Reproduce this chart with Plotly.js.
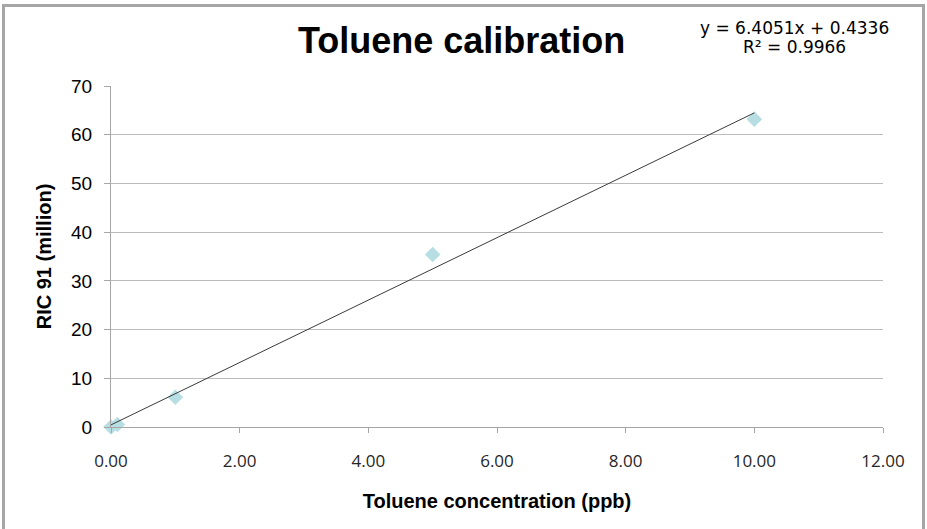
<!DOCTYPE html>
<html>
<head>
<meta charset="utf-8">
<script src="https://cdn.plot.ly/plotly-3.0.1.min.js"></script>
<style>
  html, body { margin: 0; padding: 0; background: #ffffff; overflow: hidden; }
  #chart { position: absolute; left: 0; top: 0; width: 927px; height: 529px; }
  #frame { position: absolute; left: 2px; top: 4px; width: 917px; height: 600px;
           border: 3px solid #a6a6a6; pointer-events: none; }
</style>
</head>
<body>
<div id="chart"></div>
<div id="frame"></div>
<script>
// Data
const concentration = [0, 0.1, 1, 5, 10];          // ppb
const ric91 = [0, 0.5, 6.1, 35.4, 63.2];           // million
const trendSlope = 6.4051;
const trendIntercept = 0.4336;
const rSquared = 0.9966;
const xTicks = [0, 2, 4, 6, 8, 10, 12];
const yTicks = [0, 10, 20, 30, 40, 50, 60, 70];

const trendX = [Math.min(...concentration), Math.max(...concentration)];
const trendY = trendX.map(x => trendSlope * x + trendIntercept);

const data = [
  {
    x: concentration, y: ric91, type: 'scatter', mode: 'markers', cliponaxis: false,
    marker: { symbol: 'diamond', size: 12, color: '#b7dfe3', line: { width: 0 } },
    hoverinfo: 'x+y', showlegend: false
  },
  {
    x: trendX, y: trendY, type: 'scatter', mode: 'lines', cliponaxis: false,
    line: { color: '#3a3a3a', width: 1 },
    hoverinfo: 'skip', showlegend: false
  }
];

const layout = {
  width: 927, height: 529, autosize: false,
  paper_bgcolor: '#ffffff', plot_bgcolor: '#ffffff',
  margin: { l: 111, r: 44, t: 86, b: 102, pad: 0 },
  title: {
    text: '<b>Toluene calibration</b>',
    font: { family: 'Liberation Sans, Arial, sans-serif', size: 36, color: '#000000' },
    xref: 'container', yref: 'container', x: 0.498, y: 0.924,
    xanchor: 'center', yanchor: 'middle'
  },
  xaxis: {
    range: [0, 12], tickvals: xTicks, tickformat: '.2f',
    showgrid: false, zeroline: false,
    showline: true, linecolor: '#a6a6a6', linewidth: 1,
    ticks: 'outside', ticklen: 5, tickcolor: '#a6a6a6', tickwidth: 1,
    ticklabelstandoff: 14,
    tickfont: { family: 'Open Sans, sans-serif', size: 17, color: '#262626' },
    title: {
      text: '<b>Toluene concentration (ppb)</b>',
      font: { family: 'Liberation Sans, Arial, sans-serif', size: 20, color: '#000000' },
      standoff: 22
    }
  },
  yaxis: {
    range: [0, 70], tickvals: yTicks,
    showgrid: true, gridcolor: '#bcbcbc', gridwidth: 1, zeroline: false,
    showline: true, linecolor: '#a6a6a6', linewidth: 1,
    ticks: 'outside', ticklen: 6, tickcolor: '#a6a6a6', tickwidth: 1,
    ticklabelstandoff: 8,
    tickfont: { family: 'Liberation Sans, Arial, sans-serif', size: 19, color: '#000000' },
    title: {
      text: '<b>RIC 91 (million)</b>',
      font: { family: 'Liberation Sans, Arial, sans-serif', size: 20, color: '#000000' },
      standoff: 14
    }
  },
  annotations: [
    {
      text: 'y = ' + trendSlope.toFixed(4) + 'x + ' + trendIntercept.toFixed(4),
      xref: 'paper', yref: 'paper', x: 0.885, y: 1.169,
      xanchor: 'center', yanchor: 'middle', showarrow: false,
      font: { family: 'DejaVu Sans, sans-serif', size: 17, color: '#000000' }
    },
    {
      text: 'R² = ' + rSquared.toFixed(4),
      xref: 'paper', yref: 'paper', x: 0.885, y: 1.113,
      xanchor: 'center', yanchor: 'middle', showarrow: false,
      font: { family: 'DejaVu Sans, sans-serif', size: 17, color: '#000000' }
    }
  ]
};

Plotly.newPlot('chart', data, layout, { displayModeBar: false, staticPlot: true });
</script>
</body>
</html>
